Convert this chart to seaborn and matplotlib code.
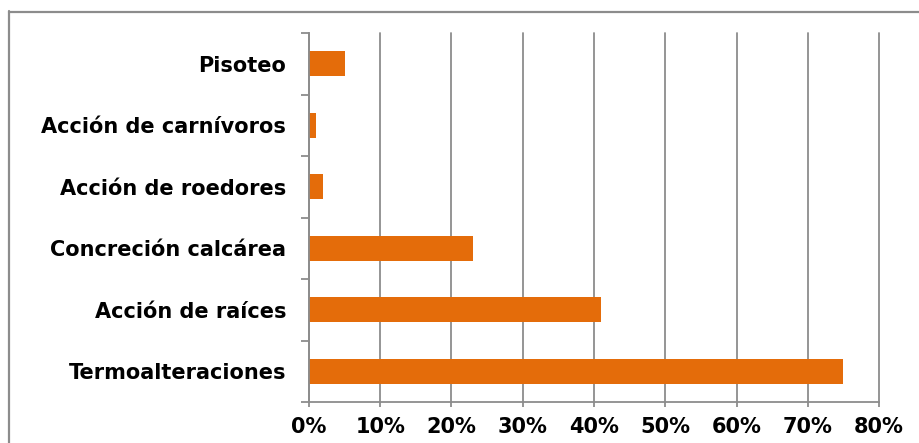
import matplotlib
matplotlib.use('Agg')
import matplotlib.pyplot as plt
import seaborn as sns
import pandas as pd
from matplotlib.ticker import FixedLocator
from matplotlib.lines import Line2D

categories = ["Pisoteo", "Acción de carnívoros", "Acción de roedores",
              "Concreción calcárea", "Acción de raíces", "Termoalteraciones"]
values = [5, 1, 2, 23, 41, 75]
x_ticks = [0, 10, 20, 30, 40, 50, 60, 70, 80]
x_tick_labels = [f"{t}%" for t in x_ticks]

sns.set_theme(style="white")
plt.rcParams['font.family'] = ['DejaVu Sans']

W, H = 920, 443
fig = plt.figure(figsize=(W / 100, H / 100), dpi=100)
ax = fig.add_axes([309 / W, 1 - 402 / H, 570 / W, 369 / H])

df = pd.DataFrame({"cat": categories, "val": values})
sns.barplot(data=df, x="val", y="cat", orient="h", color="#E46C0A",
            saturation=1, width=0.4, linewidth=0, ax=ax)

grey = "#8c8c8c"
ax.set_xlim(0, 80)
ax.set_ylim(5.5, -0.5)
ax.set_xticks(x_ticks)
ax.set_xticklabels(x_tick_labels, fontweight="bold", fontsize=15)
ax.set_yticks(range(len(categories)))
ax.set_yticklabels(categories, fontweight="bold", fontsize=15)
ax.set_xlabel("")
ax.set_ylabel("")

for s in ["top", "right"]:
    ax.spines[s].set_visible(False)
for s in ["left", "bottom"]:
    ax.spines[s].set_color(grey)
    ax.spines[s].set_linewidth(1.3)

ax.set_axisbelow(True)
ax.grid(axis="x", color=grey, lw=1.3)
ax.grid(axis="y", visible=False)
for gl in ax.get_xgridlines():
    gl.set_clip_on(False)

ax.yaxis.set_minor_locator(FixedLocator([i - 0.5 for i in range(len(categories) + 1)]))
ax.tick_params(axis="y", which="major", length=0, pad=16.5, colors="black", left=False)
ax.tick_params(axis="y", which="minor", length=5.8, width=1.3, color=grey, left=True)
ax.tick_params(axis="x", which="major", length=3.6, width=1.3, color=grey,
               pad=7.5, bottom=True, labelcolor="black")

fig.add_artist(Line2D([9.5 / W, 9.5 / W], [1 - 11 / H, 0], transform=fig.transFigure,
                      color=grey, lw=1.6))
fig.add_artist(Line2D([9 / W, 1], [1 - 11.5 / H, 1 - 11.5 / H], transform=fig.transFigure,
                      color=grey, lw=1.6))

fig.savefig("out.png", dpi=100)
